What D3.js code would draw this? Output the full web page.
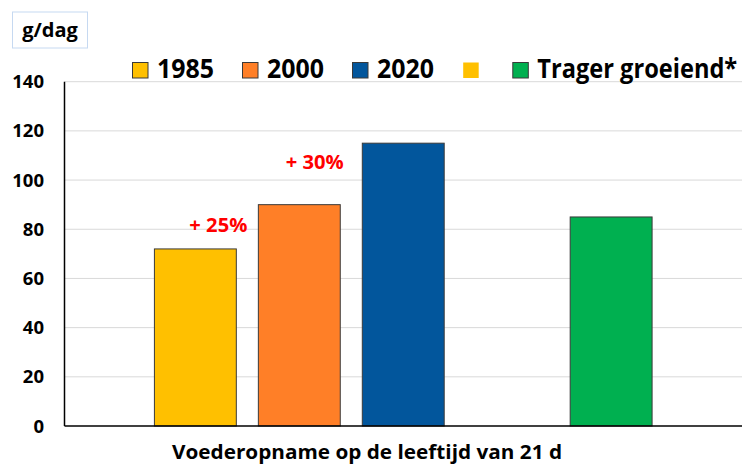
<!DOCTYPE html>
<html lang="nl">
<head>
  <meta charset="utf-8">
  <script src="https://d3js.org/d3.v7.min.js"></script>
  <title>Voederopname</title>
  <style>
    body { margin: 0; background: #fff; }
    text { font-family: "Open Sans", sans-serif; font-weight: bold; }
  </style>
</head>
<body>
  <div id="chart"></div>
<script>
  // data
  const category = "Voederopname op de leeftijd van 21 d";
  const series = ["1985", "2000", "2020", "", "Trager groeiend*"];
  const values = [72, 90, 115, 0, 85];
  const colors = ["#FFC000", "#FF7F27", "#02569C", "#FFC000", "#00B050"];
  const yTicks = [0, 20, 40, 60, 80, 100, 120, 140];
  const notes = [
    { series: "2000", value: 79, text: "+ 25%" },
    { series: "2020", value: 104.5, text: "+ 30%" }
  ];
  const unit = "g/dag";

  const W = 745, H = 464;
  const m = { left: 64.5, right: 742, top: 81.7, bottom: 426 };

  const svg = d3.select("#chart").append("svg")
    .attr("width", W).attr("height", H);

  const y = d3.scaleLinear().domain([0, 140]).range([m.bottom, m.top]);
  const x = d3.scaleBand()
    .domain(series.map((s, i) => i))
    .range([m.left, m.right])
    .paddingInner(0.212)
    .paddingOuter(0.865);

  // gridlines
  svg.append("g")
    .selectAll("line")
    .data(yTicks.filter(d => d > 0))
    .join("line")
    .attr("x1", m.left).attr("x2", m.right)
    .attr("y1", d => y(d)).attr("y2", d => y(d))
    .attr("stroke", "#d9d9d9").attr("stroke-width", 1);

  // y axis labels
  svg.append("g")
    .selectAll("text")
    .data(yTicks)
    .join("text")
    .attr("x", 44)
    .attr("y", d => y(d) + 6.5)
    .attr("text-anchor", "end")
    .attr("font-size", 18.5)
    .text(d => d);

  // bars
  svg.append("g")
    .selectAll("rect")
    .data(values.map((v, i) => ({ v, i })).filter(d => d.v > 0))
    .join("rect")
    .attr("x", d => x(d.i))
    .attr("y", d => y(d.v))
    .attr("width", x.bandwidth())
    .attr("height", d => y(0) - y(d.v))
    .attr("fill", d => colors[d.i])
    .attr("stroke", "#3a3a3a")
    .attr("stroke-width", 1);

  // axes lines
  svg.append("line")
    .attr("x1", m.left).attr("x2", m.left)
    .attr("y1", y(140)).attr("y2", y(0))
    .attr("stroke", "#000").attr("stroke-width", 1.5);
  svg.append("line")
    .attr("x1", m.left).attr("x2", m.right)
    .attr("y1", y(0)).attr("y2", y(0))
    .attr("stroke", "#000").attr("stroke-width", 1.5);

  // percent notes
  svg.append("g")
    .selectAll("text")
    .data(notes)
    .join("text")
    .attr("x", (d, i) => x(series.indexOf(d.series)) - (i === 0 ? 11 : 18.5))
    .attr("y", d => y(d.value))
    .attr("text-anchor", "end")
    .attr("font-size", 20)
    .attr("textLength", 58)
    .attr("lengthAdjust", "spacingAndGlyphs")
    .attr("fill", "#FF0000")
    .text(d => d.text);

  // category label
  svg.append("text")
    .attr("x", 367)
    .attr("y", 459)
    .attr("text-anchor", "middle")
    .attr("font-size", 20)
    .attr("textLength", 390)
    .attr("lengthAdjust", "spacingAndGlyphs")
    .text(category);

  // unit box
  svg.append("rect")
    .attr("x", 12.5).attr("y", 12).attr("width", 75).attr("height", 36)
    .attr("fill", "#fff").attr("stroke", "#c6d9f1").attr("stroke-width", 1);
  svg.append("text")
    .attr("x", 50).attr("y", 37)
    .attr("text-anchor", "middle")
    .attr("font-size", 20)
    .text(unit);

  // legend
  const legX = [132, 242, 352, 462.7, 512.3];
  const leg = svg.append("g")
    .selectAll("g")
    .data(series)
    .join("g")
    .attr("transform", (d, i) => `translate(${legX[i]},62)`);
  leg.append("rect")
    .attr("x", 0.5).attr("y", 0.5).attr("width", 15.5).attr("height", 15.5)
    .attr("fill", (d, i) => colors[i])
    .attr("stroke", (d, i) => d === "" ? "none" : "#3a3a3a");
  // squeeze legend text horizontally to the reference widths
  leg.append("g")
    .attr("transform", "translate(25,15.5)")
    .append("text")
    .attr("font-size", 27)
    .text(d => d)
    .each(function (d) {
      if (!d) return;
      const target = d.length > 4 ? 200 : 57;
      const w = this.getComputedTextLength();
      d3.select(this).attr("transform", `scale(${target / w},1)`);
    });
</script>
</body>
</html>
